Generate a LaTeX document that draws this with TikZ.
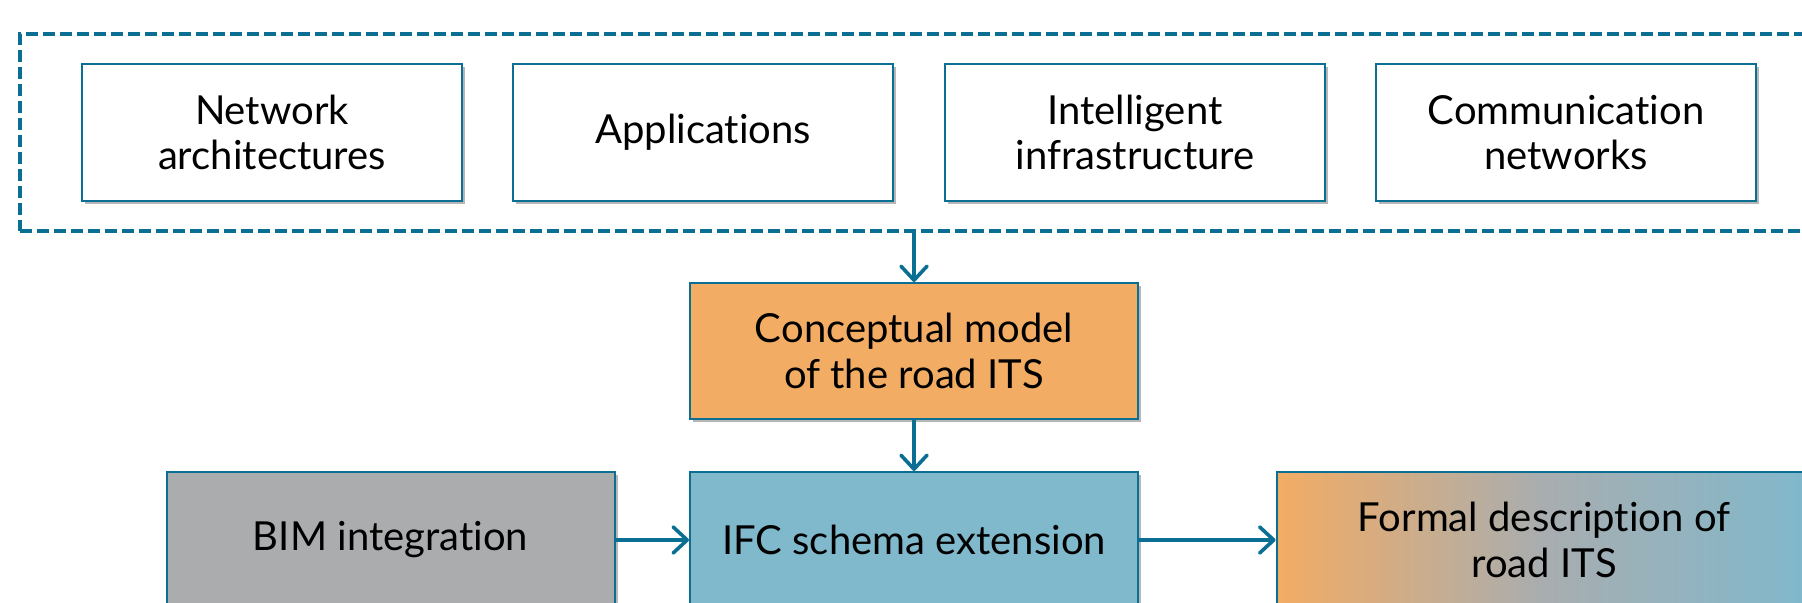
\documentclass[tikz,border=0pt]{standalone}
\usepackage{fontspec}
\setmainfont{Lato}[Ligatures={NoCommon}]
\usetikzlibrary{arrows.meta,shadows,fit}
\definecolor{edge}{HTML}{0B6E93}
\definecolor{orangefill}{HTML}{F3AC63}
\definecolor{bluefill}{HTML}{80B8CC}
\definecolor{grayfill}{HTML}{ABACAE}
\definecolor{midgray}{HTML}{A8ADB0}
\begin{document}
\begin{tikzpicture}[x=0.5pt,y=-0.5pt,
  box/.style={draw=edge, line width=1pt, align=center, inner sep=0pt,
    font=\fontsize{20}{22.6}\selectfont,
    drop shadow={shadow xshift=1.6pt,shadow yshift=-1.6pt,opacity=0.4,fill=black!70}},
  topbox/.style={box, fill=white, minimum width=190pt, minimum height=68.5pt},
  midbox/.style={box, minimum width=224pt, minimum height=68pt},
  arr/.style={draw=edge, line width=1.8pt, -{Straight Barb[length=7pt,width=13pt,round]}}
]
\useasboundingbox (0,0) rectangle (1802,603);
\clip (0,0) rectangle (1802,603);

\node[topbox] (a) at (272,132.5) {Network\\architectures};
\node[topbox] (b) at (703,132.5) {Applications};
\node[topbox] (c) at (1135,132.5) {Intelligent\\infrastructure};
\node[topbox] (d) at (1566,132.5) {Communication\\networks};

\node[fit=(a)(d), inner xsep=30.5pt, inner ysep=14.3pt, draw=edge, line width=2pt,
      dash pattern=on 6pt off 2.5pt] (group) {};

\node[midbox, fill=orangefill] (concept) at (914,351) {Conceptual model\\of the road ITS};
\node[midbox, fill=bluefill] (ifc) at (914,540) {IFC schema extension};
\node[midbox, fill=grayfill] (bim) at (390.5,540) {BIM integration};
\node[midbox, minimum width=267.5pt, left color=orangefill, right color=bluefill,
      middle color=midgray] (formal) at (1544,540) {Formal description of\\road ITS};

\draw[arr] (group.south -| concept.north) -- (concept.north);
\draw[arr] (concept.south) -- (ifc.north);
\draw[arr] (bim.east) -- (ifc.west);
\draw[arr] (ifc.east) -- (formal.west);
\end{tikzpicture}
\end{document}
